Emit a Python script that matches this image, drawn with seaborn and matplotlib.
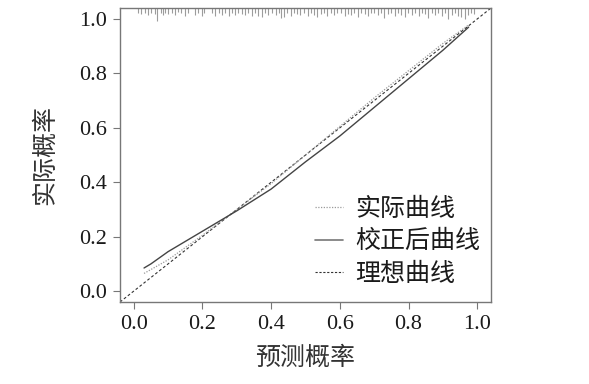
import matplotlib
matplotlib.use("Agg")
import matplotlib.pyplot as plt
import seaborn as sns
import pandas as pd
from matplotlib.lines import Line2D

# ---- data ----
actual_x = [0.03, 0.10, 0.20, 0.30, 0.40, 0.50, 0.60, 0.70, 0.80, 0.90, 0.975]
actual_y = [0.065, 0.115, 0.205, 0.300, 0.395, 0.500, 0.605, 0.710, 0.810, 0.910, 0.978]

calib_x = [0.03, 0.05, 0.10, 0.20, 0.30, 0.40, 0.50, 0.60, 0.70, 0.80, 0.90, 0.975]
calib_y = [0.085, 0.100, 0.145, 0.220, 0.295, 0.375, 0.475, 0.570, 0.675, 0.780, 0.885, 0.970]

rug_x = [0.013, 0.022, 0.032, 0.042, 0.049, 0.061, 0.069, 0.078, 0.085, 0.092,
         0.100, 0.110, 0.119, 0.129, 0.137, 0.148, 0.158, 0.179, 0.187, 0.199,
         0.206, 0.228, 0.237, 0.247, 0.257, 0.266, 0.276, 0.286, 0.296, 0.305,
         0.315, 0.325, 0.334, 0.344, 0.352, 0.363, 0.373, 0.381, 0.392, 0.402,
         0.415, 0.422, 0.429, 0.437, 0.447, 0.458, 0.468, 0.476, 0.485, 0.495,
         0.507, 0.517, 0.526, 0.534, 0.544, 0.553, 0.563, 0.573, 0.582, 0.592,
         0.604, 0.614, 0.623, 0.633, 0.642, 0.652, 0.662, 0.672, 0.681, 0.691,
         0.700, 0.711, 0.720, 0.729, 0.740, 0.749, 0.760, 0.769, 0.779, 0.790,
         0.799, 0.809, 0.820, 0.829, 0.838, 0.848, 0.858, 0.868, 0.877, 0.887,
         0.897, 0.906, 0.916, 0.926, 0.935, 0.944, 0.954, 0.963, 0.973, 0.982,
         0.991]
rug_len = [4, 5, 4, 6, 4, 5, 12, 4, 6, 4,
           5, 4, 6, 3, 4, 7, 4, 6, 4, 7,
           4, 4, 7, 4, 6, 4, 7, 4, 6, 4,
           5, 6, 4, 7, 4, 7, 8, 4, 6, 4,
           6, 4, 9, 8, 4, 7, 4, 5, 6, 4,
           7, 4, 6, 8, 5, 4, 7, 4, 6, 4,
           4, 7, 5, 6, 4, 8, 4, 5, 7, 4,
           4, 6, 4, 9, 5, 4, 7, 4, 6, 8,
           4, 6, 4, 7, 4, 5, 9, 4, 6, 4,
           7, 4, 10, 6, 4, 7, 8, 10, 6, 4,
           5]

ticks = [0.0, 0.2, 0.4, 0.6, 0.8, 1.0]
tick_labels = ["0.0", "0.2", "0.4", "0.6", "0.8", "1.0"]
legend_labels = ["实际曲线", "校正后曲线", "理想曲线"]
xlabel = "预测概率"
ylabel = "实际概率"

# ---- style ----
sns.set_theme(style="white")
plt.rcParams["font.family"] = ["Liberation Serif", "Noto Sans CJK SC"]
plt.rcParams["axes.unicode_minus"] = False

fig = plt.figure(figsize=(5.89, 3.84), dpi=100)
ax = fig.add_axes([0.2037, 0.2135, 0.8336 - 0.2037, 0.979 - 0.2135])

lo, hi = -0.04, 1.04
ax.set_xlim(lo, hi)
ax.set_ylim(lo, hi)

# ideal line
ax.axline((0, 0), slope=1, color="#333333", lw=0.8, linestyle=(0, (2.5, 2.0)))

df_a = pd.DataFrame({"x": actual_x, "y": actual_y})
df_c = pd.DataFrame({"x": calib_x, "y": calib_y})
sns.lineplot(data=df_a, x="x", y="y", ax=ax, color="#9a9a9a", lw=0.9,
             linestyle=(0, (1.0, 1.2)), sort=False)
sns.lineplot(data=df_c, x="x", y="y", ax=ax, color="#444444", lw=1.0, sort=False)

# rug at top
px = (hi - lo) / 294.0
ax.vlines(rug_x, [hi - (l + 1) * px for l in rug_len], hi, color="#9c9c9c", lw=0.8)

ax.set_xticks(ticks)
ax.set_xticklabels(tick_labels)
ax.set_yticks(ticks)
ax.set_yticklabels(tick_labels)
ax.tick_params(axis="both", which="both", direction="out", length=5, width=0.8,
               color="#777777", labelsize=16, labelcolor="#1a1a1a", pad=4,
               bottom=True, left=True)
for s in ax.spines.values():
    s.set_color("#777777")
    s.set_linewidth(1.0)

ax.set_xlabel(xlabel, fontsize=18, color="#333333", labelpad=9)
ax.set_ylabel(ylabel, fontsize=18, color="#333333", labelpad=16)

handles = [
    Line2D([], [], color="#9a9a9a", lw=0.9, linestyle=(0, (1.0, 1.2))),
    Line2D([], [], color="#777777", lw=1.2),
    Line2D([], [], color="#333333", lw=0.8, linestyle=(0, (2.0, 1.5))),
]
ax.legend(handles, legend_labels, loc="upper left", bbox_to_anchor=(0.50, 0.39),
          frameon=False, fontsize=18, handlelength=1.1, handletextpad=0.5,
          labelspacing=0.38, borderaxespad=0, labelcolor="#1a1a1a")

fig.savefig("out.png", dpi=100)
